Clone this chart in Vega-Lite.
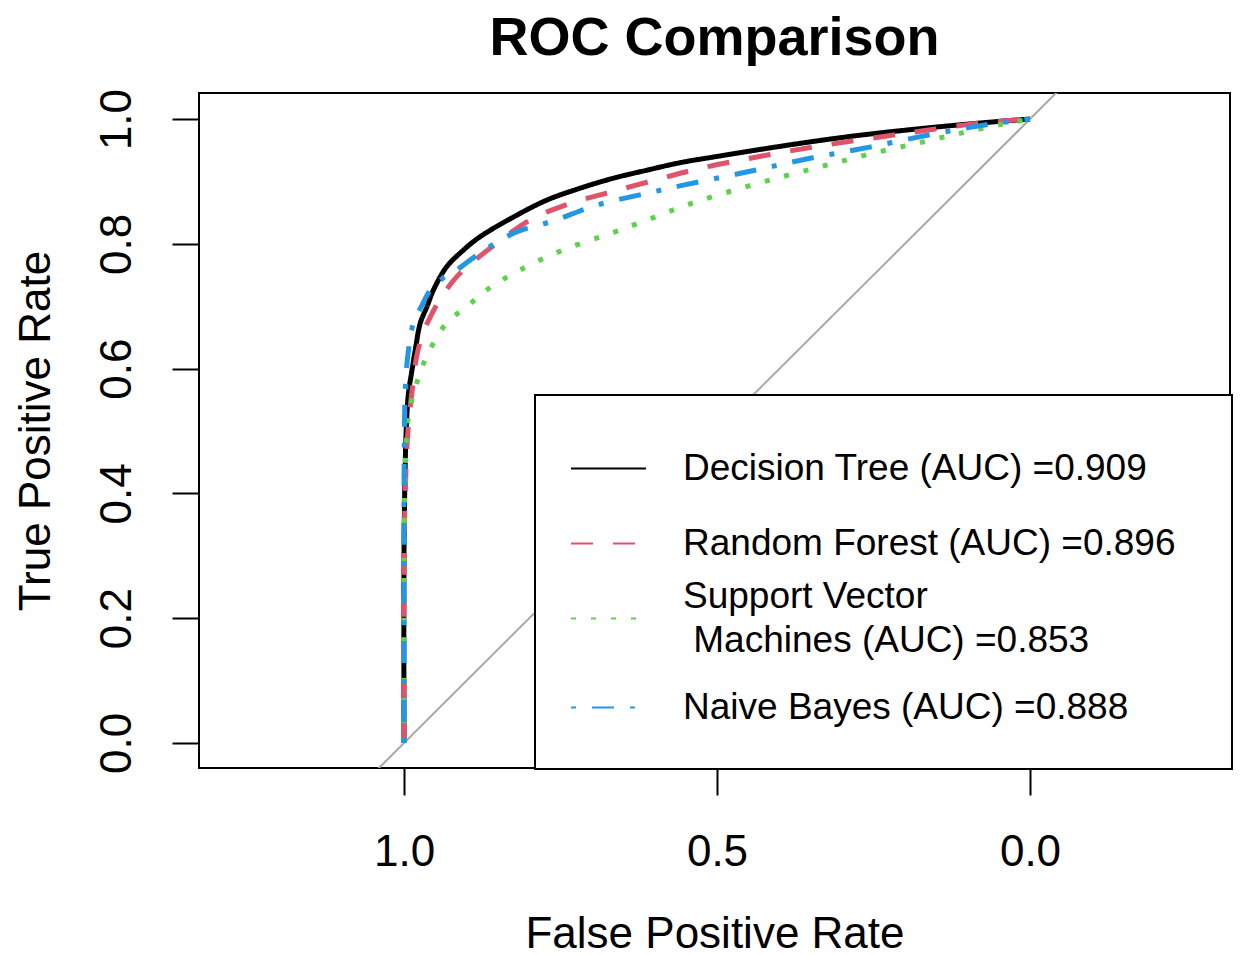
{
  "$schema": "https://vega.github.io/schema/vega-lite/v6.json",
  "width": 1031,
  "height": 675,
  "autosize": {"type": "none"},
  "padding": {"left": 199, "top": 93, "right": 11, "bottom": 187},
  "background": "white",
  "title": {"text": "ROC Comparison", "fontSize": 54, "font": "Liberation Sans", "fontWeight": "bold", "anchor": "middle", "baseline": "alphabetic", "offset": -21, "color": "black"},
  "config": {
    "view": {"stroke": "black", "strokeWidth": 2},
    "axis": {"labelFont": "Liberation Sans", "titleFont": "Liberation Sans", "labelFontSize": 44, "titleFontSize": 44, "titleFontWeight": "normal", "labelColor": "black", "titleColor": "black", "tickColor": "black", "tickWidth": 2, "domain": false, "grid": false, "tickSize": 27},
    "legend": {"labelFont": "Liberation Sans", "labelFontSize": 37, "labelColor": "black", "symbolType": "M-1,0H1M0,-1.07V-1.07M0,0.59V0.59", "symbolSize": 5625, "symbolStrokeWidth": 2, "labelOffset": 36, "labelLimit": 0, "padding": 35, "rowPadding": 4, "strokeColor": "black", "fillColor": "white"}
  },
  "datasets": {
    "diag": [
      {"spec": 1.1, "sens": -0.1},
      {"spec": -0.1, "sens": 1.1}
    ],
    "roc": [
      {"model": "Decision Tree (AUC) =0.909", "spec": 1.0, "sens": 0.0},
      {"model": "Decision Tree (AUC) =0.909", "spec": 1.0, "sens": 0.3},
      {"model": "Decision Tree (AUC) =0.909", "spec": 0.998, "sens": 0.45},
      {"model": "Decision Tree (AUC) =0.909", "spec": 0.996, "sens": 0.513},
      {"model": "Decision Tree (AUC) =0.909", "spec": 0.993, "sens": 0.56},
      {"model": "Decision Tree (AUC) =0.909", "spec": 0.988, "sens": 0.593},
      {"model": "Decision Tree (AUC) =0.909", "spec": 0.982, "sens": 0.63},
      {"model": "Decision Tree (AUC) =0.909", "spec": 0.974, "sens": 0.673},
      {"model": "Decision Tree (AUC) =0.909", "spec": 0.963, "sens": 0.70},
      {"model": "Decision Tree (AUC) =0.909", "spec": 0.953, "sens": 0.726},
      {"model": "Decision Tree (AUC) =0.909", "spec": 0.932, "sens": 0.763},
      {"model": "Decision Tree (AUC) =0.909", "spec": 0.905, "sens": 0.79},
      {"model": "Decision Tree (AUC) =0.909", "spec": 0.879, "sens": 0.811},
      {"model": "Decision Tree (AUC) =0.909", "spec": 0.825, "sens": 0.843},
      {"model": "Decision Tree (AUC) =0.909", "spec": 0.772, "sens": 0.870},
      {"model": "Decision Tree (AUC) =0.909", "spec": 0.719, "sens": 0.889},
      {"model": "Decision Tree (AUC) =0.909", "spec": 0.666, "sens": 0.905},
      {"model": "Decision Tree (AUC) =0.909", "spec": 0.612, "sens": 0.918},
      {"model": "Decision Tree (AUC) =0.909", "spec": 0.559, "sens": 0.930},
      {"model": "Decision Tree (AUC) =0.909", "spec": 0.500, "sens": 0.940},
      {"model": "Decision Tree (AUC) =0.909", "spec": 0.394, "sens": 0.957},
      {"model": "Decision Tree (AUC) =0.909", "spec": 0.288, "sens": 0.972},
      {"model": "Decision Tree (AUC) =0.909", "spec": 0.181, "sens": 0.984},
      {"model": "Decision Tree (AUC) =0.909", "spec": 0.075, "sens": 0.994},
      {"model": "Decision Tree (AUC) =0.909", "spec": 0.0, "sens": 1.0},
      {"model": "Random Forest (AUC) =0.896", "spec": 1.0, "sens": 0.0},
      {"model": "Random Forest (AUC) =0.896", "spec": 1.0, "sens": 0.3},
      {"model": "Random Forest (AUC) =0.896", "spec": 0.995, "sens": 0.48},
      {"model": "Random Forest (AUC) =0.896", "spec": 0.990, "sens": 0.539},
      {"model": "Random Forest (AUC) =0.896", "spec": 0.985, "sens": 0.58},
      {"model": "Random Forest (AUC) =0.896", "spec": 0.980, "sens": 0.619},
      {"model": "Random Forest (AUC) =0.896", "spec": 0.970, "sens": 0.655},
      {"model": "Random Forest (AUC) =0.896", "spec": 0.958, "sens": 0.683},
      {"model": "Random Forest (AUC) =0.896", "spec": 0.940, "sens": 0.715},
      {"model": "Random Forest (AUC) =0.896", "spec": 0.916, "sens": 0.747},
      {"model": "Random Forest (AUC) =0.896", "spec": 0.885, "sens": 0.775},
      {"model": "Random Forest (AUC) =0.896", "spec": 0.852, "sens": 0.801},
      {"model": "Random Forest (AUC) =0.896", "spec": 0.799, "sens": 0.838},
      {"model": "Random Forest (AUC) =0.896", "spec": 0.740, "sens": 0.863},
      {"model": "Random Forest (AUC) =0.896", "spec": 0.670, "sens": 0.883},
      {"model": "Random Forest (AUC) =0.896", "spec": 0.596, "sens": 0.903},
      {"model": "Random Forest (AUC) =0.896", "spec": 0.527, "sens": 0.921},
      {"model": "Random Forest (AUC) =0.896", "spec": 0.453, "sens": 0.936},
      {"model": "Random Forest (AUC) =0.896", "spec": 0.383, "sens": 0.949},
      {"model": "Random Forest (AUC) =0.896", "spec": 0.309, "sens": 0.961},
      {"model": "Random Forest (AUC) =0.896", "spec": 0.234, "sens": 0.972},
      {"model": "Random Forest (AUC) =0.896", "spec": 0.165, "sens": 0.982},
      {"model": "Random Forest (AUC) =0.896", "spec": 0.085, "sens": 0.993},
      {"model": "Random Forest (AUC) =0.896", "spec": 0.02, "sens": 0.999},
      {"model": "Random Forest (AUC) =0.896", "spec": 0.0, "sens": 1.0},
      {"model": "Support Vector Machines (AUC) =0.853", "spec": 1.0, "sens": 0.0},
      {"model": "Support Vector Machines (AUC) =0.853", "spec": 1.0, "sens": 0.3},
      {"model": "Support Vector Machines (AUC) =0.853", "spec": 0.997, "sens": 0.47},
      {"model": "Support Vector Machines (AUC) =0.853", "spec": 0.993, "sens": 0.523},
      {"model": "Support Vector Machines (AUC) =0.853", "spec": 0.980, "sens": 0.576},
      {"model": "Support Vector Machines (AUC) =0.853", "spec": 0.964, "sens": 0.619},
      {"model": "Support Vector Machines (AUC) =0.853", "spec": 0.932, "sens": 0.673},
      {"model": "Support Vector Machines (AUC) =0.853", "spec": 0.900, "sens": 0.699},
      {"model": "Support Vector Machines (AUC) =0.853", "spec": 0.868, "sens": 0.726},
      {"model": "Support Vector Machines (AUC) =0.853", "spec": 0.815, "sens": 0.758},
      {"model": "Support Vector Machines (AUC) =0.853", "spec": 0.746, "sens": 0.790},
      {"model": "Support Vector Machines (AUC) =0.853", "spec": 0.666, "sens": 0.818},
      {"model": "Support Vector Machines (AUC) =0.853", "spec": 0.607, "sens": 0.840},
      {"model": "Support Vector Machines (AUC) =0.853", "spec": 0.543, "sens": 0.864},
      {"model": "Support Vector Machines (AUC) =0.853", "spec": 0.469, "sens": 0.887},
      {"model": "Support Vector Machines (AUC) =0.853", "spec": 0.394, "sens": 0.908},
      {"model": "Support Vector Machines (AUC) =0.853", "spec": 0.325, "sens": 0.926},
      {"model": "Support Vector Machines (AUC) =0.853", "spec": 0.256, "sens": 0.944},
      {"model": "Support Vector Machines (AUC) =0.853", "spec": 0.181, "sens": 0.961},
      {"model": "Support Vector Machines (AUC) =0.853", "spec": 0.112, "sens": 0.977},
      {"model": "Support Vector Machines (AUC) =0.853", "spec": 0.043, "sens": 0.992},
      {"model": "Support Vector Machines (AUC) =0.853", "spec": 0.0, "sens": 1.0},
      {"model": "Naive Bayes (AUC) =0.888", "spec": 1.0, "sens": 0.0},
      {"model": "Naive Bayes (AUC) =0.888", "spec": 1.0, "sens": 0.4},
      {"model": "Naive Bayes (AUC) =0.888", "spec": 0.998, "sens": 0.566},
      {"model": "Naive Bayes (AUC) =0.888", "spec": 0.994, "sens": 0.62},
      {"model": "Naive Bayes (AUC) =0.888", "spec": 0.985, "sens": 0.673},
      {"model": "Naive Bayes (AUC) =0.888", "spec": 0.972, "sens": 0.70},
      {"model": "Naive Bayes (AUC) =0.888", "spec": 0.958, "sens": 0.726},
      {"model": "Naive Bayes (AUC) =0.888", "spec": 0.938, "sens": 0.745},
      {"model": "Naive Bayes (AUC) =0.888", "spec": 0.916, "sens": 0.758},
      {"model": "Naive Bayes (AUC) =0.888", "spec": 0.879, "sens": 0.785},
      {"model": "Naive Bayes (AUC) =0.888", "spec": 0.825, "sens": 0.817},
      {"model": "Naive Bayes (AUC) =0.888", "spec": 0.761, "sens": 0.837},
      {"model": "Naive Bayes (AUC) =0.888", "spec": 0.692, "sens": 0.862},
      {"model": "Naive Bayes (AUC) =0.888", "spec": 0.612, "sens": 0.881},
      {"model": "Naive Bayes (AUC) =0.888", "spec": 0.554, "sens": 0.894},
      {"model": "Naive Bayes (AUC) =0.888", "spec": 0.453, "sens": 0.915},
      {"model": "Naive Bayes (AUC) =0.888", "spec": 0.357, "sens": 0.936},
      {"model": "Naive Bayes (AUC) =0.888", "spec": 0.256, "sens": 0.955},
      {"model": "Naive Bayes (AUC) =0.888", "spec": 0.154, "sens": 0.976},
      {"model": "Naive Bayes (AUC) =0.888", "spec": 0.075, "sens": 0.990},
      {"model": "Naive Bayes (AUC) =0.888", "spec": 0.0, "sens": 1.0}
    ]
  },
  "encoding": {
    "x": {"field": "spec", "type": "quantitative", "scale": {"domain": [-0.3195, 1.3275], "reverse": true, "nice": false, "zero": false}, "axis": {"values": [1, 0.5, 0], "format": ".1f", "title": "False Positive Rate", "labelPadding": 35, "titlePadding": 38, "labelFlush": false}},
    "y": {"field": "sens", "type": "quantitative", "scale": {"domain": [-0.0401, 1.0417], "nice": false, "zero": false}, "axis": {"values": [0, 0.2, 0.4, 0.6, 0.8, 1], "format": ".1f", "title": "True Positive Rate", "labelAngle": -90, "labelAlign": "center", "labelBaseline": "bottom", "labelPadding": 33, "titlePadding": 37, "labelFlush": false}}
  },
  "layer": [
    {
      "data": {"name": "diag"},
      "mark": {"type": "line", "color": "#A8A8A8", "strokeWidth": 2, "clip": true}
    },
    {
      "data": {"name": "roc"},
      "mark": {"type": "line", "strokeWidth": 5, "clip": true, "interpolate": "catmull-rom"},
      "encoding": {
        "order": {"field": "sens", "type": "quantitative"},
        "color": {"field": "model", "type": "nominal",
          "scale": {"domain": ["Decision Tree (AUC) =0.909", "Random Forest (AUC) =0.896", "Support Vector Machines (AUC) =0.853", "Naive Bayes (AUC) =0.888"], "range": ["#000000", "#DF536B", "#61D04F", "#2297E6"]},
          "legend": {"title": null, "orient": "none", "legendX": 336, "legendY": 302,
            "labelExpr": "datum.label == 'Support Vector Machines (AUC) =0.853' ? ['Support Vector', '\u200b\u00a0Machines (AUC) =0.853'] : datum.label == 'Random Forest (AUC) =0.896' ? datum.label + '\u00a0\u00a0\u200b' : datum.label",
            "encode": {"legend": {"update": {"strokeWidth": {"value": 2}}}, "labels": {"update": {"lineHeight": {"value": 44}, "dy": {"signal": "datum.value == 'Support Vector Machines (AUC) =0.853' ? -22 : 0"}}}}}},
        "strokeDash": {"field": "model", "type": "nominal",
          "scale": {"domain": ["Decision Tree (AUC) =0.909", "Random Forest (AUC) =0.896", "Support Vector Machines (AUC) =0.853", "Naive Bayes (AUC) =0.888"], "range": [[1, 0], [22, 20], [5, 15], [5, 16, 22, 16]]},
          "legend": {"title": null, "orient": "none", "legendX": 336, "legendY": 302,
            "labelExpr": "datum.label == 'Support Vector Machines (AUC) =0.853' ? ['Support Vector', '\u200b\u00a0Machines (AUC) =0.853'] : datum.label == 'Random Forest (AUC) =0.896' ? datum.label + '\u00a0\u00a0\u200b' : datum.label",
            "encode": {"legend": {"update": {"strokeWidth": {"value": 2}}}, "labels": {"update": {"lineHeight": {"value": 44}, "dy": {"signal": "datum.value == 'Support Vector Machines (AUC) =0.853' ? -22 : 0"}}}}}}
      }
    }
  ]
}
